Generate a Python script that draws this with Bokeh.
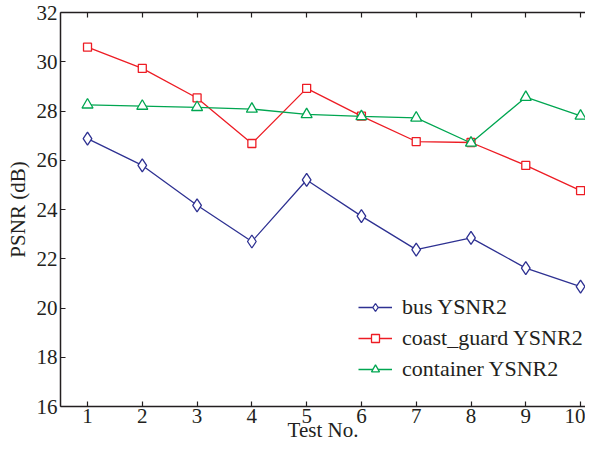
from bokeh.plotting import figure
from bokeh.models import LinearAxis, FixedTicker, Legend, LegendItem, Range1d
from bokeh.embed import file_html
from bokeh.resources import INLINE

test_no = [1, 2, 3, 4, 5, 6, 7, 8, 9, 10]
bus = [26.88, 25.79, 24.17, 22.70, 25.20, 23.73, 22.37, 22.85, 21.62, 20.87]
coast_guard = [30.59, 29.73, 28.53, 26.68, 28.92, 27.79, 26.76, 26.72, 25.79, 24.77]
container = [28.25, 28.20, 28.15, 28.08, 27.86, 27.78, 27.72, 26.70, 28.56, 27.80]
x_ticks = [1, 2, 3, 4, 5, 6, 7, 8, 9, 10]
y_ticks = [16, 18, 20, 22, 24, 26, 28, 30, 32]

FONT = "Liberation Serif"
AXC = "#231F20"

p = figure(width=585, height=444, output_backend="svg", toolbar_location=None,
           x_range=Range1d(0.507, 10.09), y_range=Range1d(16, 32),
           min_border_left=60, min_border_right=0, min_border_top=12, min_border_bottom=0,
           x_axis_location=None, y_axis_location=None)
p.outline_line_color = None
p.xgrid.visible = False
p.ygrid.visible = False
p.background_fill_color = "white"

def style_axis(ax, labels=True):
    ax.axis_line_color = AXC
    ax.axis_line_width = 1.5
    ax.major_tick_line_color = AXC
    ax.major_tick_line_width = 1.2
    ax.major_tick_in = 5
    ax.major_tick_out = 0
    ax.minor_tick_line_color = None
    ax.major_label_text_font = FONT
    ax.major_label_text_font_size = "21px"
    ax.major_label_text_color = AXC if labels else None
    ax.axis_label_text_font = FONT
    ax.axis_label_text_font_size = "21px"
    ax.axis_label_text_font_style = "normal"
    ax.axis_label_text_color = AXC

xb = LinearAxis(ticker=FixedTicker(ticks=x_ticks), axis_label="Test No.")
style_axis(xb)
xb.major_label_standoff = 2
xb.axis_label_standoff = -8
p.add_layout(xb, "below")

xt = LinearAxis(ticker=FixedTicker(ticks=x_ticks))
style_axis(xt, labels=False)
xt.major_label_text_font_size = "0px"
xt.major_label_standoff = 0
p.add_layout(xt, "above")

yl = LinearAxis(ticker=FixedTicker(ticks=y_ticks), axis_label="PSNR (dB)")
style_axis(yl)
yl.major_label_standoff = 3
yl.axis_label_standoff = 4
p.add_layout(yl, "left")

BLUE = "#2E3192"
RED = "#ED1C24"
GREEN = "#00A651"

l1 = p.line(test_no, bus, line_color=BLUE, line_width=1.3)
m1 = p.scatter(test_no, bus, marker="diamond", size=13, fill_color="white",
               line_color=BLUE, line_width=1.3)
l2 = p.line(test_no, coast_guard, line_color=RED, line_width=1.3)
m2 = p.scatter(test_no, coast_guard, marker="square", size=8, fill_color="white",
               line_color=RED, line_width=1.3)
l3 = p.line(test_no, container, line_color=GREEN, line_width=1.3)
m3 = p.scatter(test_no, container, marker="triangle", size=11, fill_color="white",
               line_color=GREEN, line_width=1.3)

legend = Legend(items=[
    LegendItem(label="bus YSNR2", renderers=[l1, m1]),
    LegendItem(label="coast_guard YSNR2", renderers=[l2, m2]),
    LegendItem(label="container YSNR2", renderers=[l3, m3]),
], location=(298, 24))
legend.border_line_color = None
legend.background_fill_alpha = 0
legend.label_text_font = FONT
legend.label_text_font_size = "22px"
legend.label_text_color = AXC
legend.glyph_width = 34
legend.glyph_height = 20
legend.label_standoff = 10
legend.spacing = 5
legend.padding = 0
legend.margin = 0
p.add_layout(legend, "center")

open("out.html", "w").write(file_html(p, INLINE))
